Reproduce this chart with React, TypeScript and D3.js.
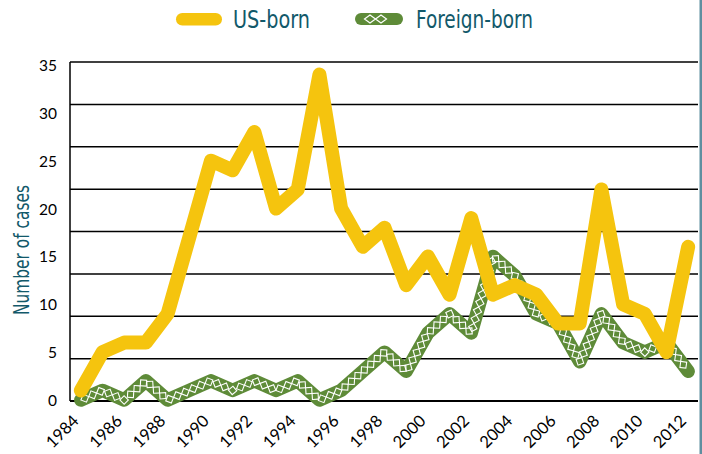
import React, { useEffect, useRef } from 'react';
import * as d3 from 'd3';

const years = [1984, 1985, 1986, 1987, 1988, 1989, 1990, 1991, 1992, 1993, 1994, 1995, 1996, 1997, 1998, 1999, 2000, 2001, 2002, 2003, 2004, 2005, 2006, 2007, 2008, 2009, 2010, 2011, 2012];
const usBorn = [1, 5, 6, 6, 9, 17, 25, 24, 28, 20, 22, 34, 20, 16, 18, 12, 15, 11, 19, 11, 12, 11, 8, 8, 22, 10, 9, 5, 16];
const foreignBorn = [0, 1, 0, 2, 0, 1, 2, 1, 2, 1, 2, 0, 1, 3, 5, 3, 7, 9, 7, 15, 13, 9, 8, 4, 9, 6, 5, 6, 3];
const yTicks = [0, 5, 10, 15, 20, 25, 30, 35];
const xTickLabels = [1984, 1986, 1988, 1990, 1992, 1994, 1996, 1998, 2000, 2002, 2004, 2006, 2008, 2010, 2012];
const gridSteps = [1, 2, 3, 4, 5, 6, 7, 8];
const seriesNames = ['US-born', 'Foreign-born'];

const YELLOW = '#F5C40E';
const GREEN = '#5E8B38';
const TEAL = '#12596A';
const NARROW = '"Liberation Sans Narrow", "DejaVu Sans Condensed", "Roboto", sans-serif';
const TICKFONT = 'Lato, "Open Sans", sans-serif';

export default function App() {
  const W = 702, H = 454;
  const left = 70, right = 698;
  const x = d3.scalePoint<number>().domain(years).range([left, 699]).padding(0.5);
  const y = d3.scaleLinear().domain([0, 35]).range([400, 65]);
  const grid = d3.scaleLinear().domain([0, 8]).range([401, 62]);
  const line = d3.line<number>().x((_, i) => x(years[i]) as number).y(d => y(d));

  const greenRef = useRef<SVGPathElement>(null);
  const chainRef = useRef<SVGGElement>(null);

  useEffect(() => {
    const p = greenRef.current;
    const g = chainRef.current;
    if (!p || !g) return;
    const L = p.getTotalLength();
    const step = 8.6;
    const pts = d3.range(step / 2, L, step).map(s => {
      const a = p.getPointAtLength(Math.max(0, s - 0.5));
      const b = p.getPointAtLength(Math.min(L, s + 0.5));
      const c = p.getPointAtLength(s);
      return { x: c.x, y: c.y, ang: (Math.atan2(b.y - a.y, b.x - a.x) * 180) / Math.PI };
    });
    d3.select(g)
      .selectAll('rect')
      .data(pts)
      .join('rect')
      .attr('x', -3)
      .attr('y', -3)
      .attr('width', 6)
      .attr('height', 6)
      .attr('transform', d => `translate(${d.x},${d.y}) rotate(${d.ang + 45})`)
      .attr('fill', 'none')
      .attr('stroke', '#ffffff')
      .attr('stroke-width', 1.1);
  }, []);

  const legendDiamonds = [370, 381];

  return (
    <svg width={W} height={H} style={{ position: 'absolute', left: 0, top: 0, background: '#fff' }}>
      {gridSteps.map(g => (
        <line key={g} x1={left} x2={right} y1={grid(g)} y2={grid(g)} stroke="#000" strokeWidth={1.5} />
      ))}
      <line x1={left} x2={left} y1={grid(8)} y2={grid(0)} stroke="#000" strokeWidth={1.5} />
      <line x1={left} x2={right} y1={grid(0)} y2={grid(0)} stroke="#000" strokeWidth={2} />

      {yTicks.map(t => (
        <text key={t} x={57} y={y(t)} textAnchor="end" dominantBaseline="central" fontFamily={TICKFONT} fontSize={15.5} fill="#000">
          {t}
        </text>
      ))}
      {xTickLabels.map(yr => (
        <text
          key={yr}
          transform={`translate(${(x(yr) as number) - 1},422) rotate(-45)`}
          textAnchor="end"
          fontFamily={TICKFONT}
          fontSize={16.5}
          fill="#000"
        >
          {yr}
        </text>
      ))}

      <text
        transform="translate(29,250) rotate(-90)"
        textAnchor="middle"
        fontFamily={NARROW}
        fontSize={21}
        fill={TEAL}
        textLength={130}
        lengthAdjust="spacingAndGlyphs"
      >
        Number of cases
      </text>

      <path ref={greenRef} d={line(foreignBorn) || ''} fill="none" stroke={GREEN} strokeWidth={13.5} strokeLinejoin="round" strokeLinecap="round" />
      <g ref={chainRef} />
      <path d={line(usBorn) || ''} fill="none" stroke={YELLOW} strokeWidth={14} strokeLinejoin="round" strokeLinecap="round" />

      <rect x={176} y={13} width={46} height={12.5} rx={6.25} fill={YELLOW} />
      <text x={233} y={28} fontFamily={NARROW} fontSize={25} fill={TEAL} textLength={77} lengthAdjust="spacingAndGlyphs">
        {seriesNames[0]}
      </text>
      <rect x={355} y={13} width={48} height={12} rx={6} fill={GREEN} />
      {legendDiamonds.map(cx => (
        <path key={cx} d={`M${cx - 5.5},19 L${cx},15 L${cx + 5.5},19 L${cx},23 Z`} fill="none" stroke="#fff" strokeWidth={1.2} />
      ))}
      <text x={416} y={28} fontFamily={NARROW} fontSize={25} fill={TEAL} textLength={117} lengthAdjust="spacingAndGlyphs">
        {seriesNames[1]}
      </text>

      <rect x={699.5} y={0} width={2.5} height={H} fill="#5F8FA0" />
    </svg>
  );
}
